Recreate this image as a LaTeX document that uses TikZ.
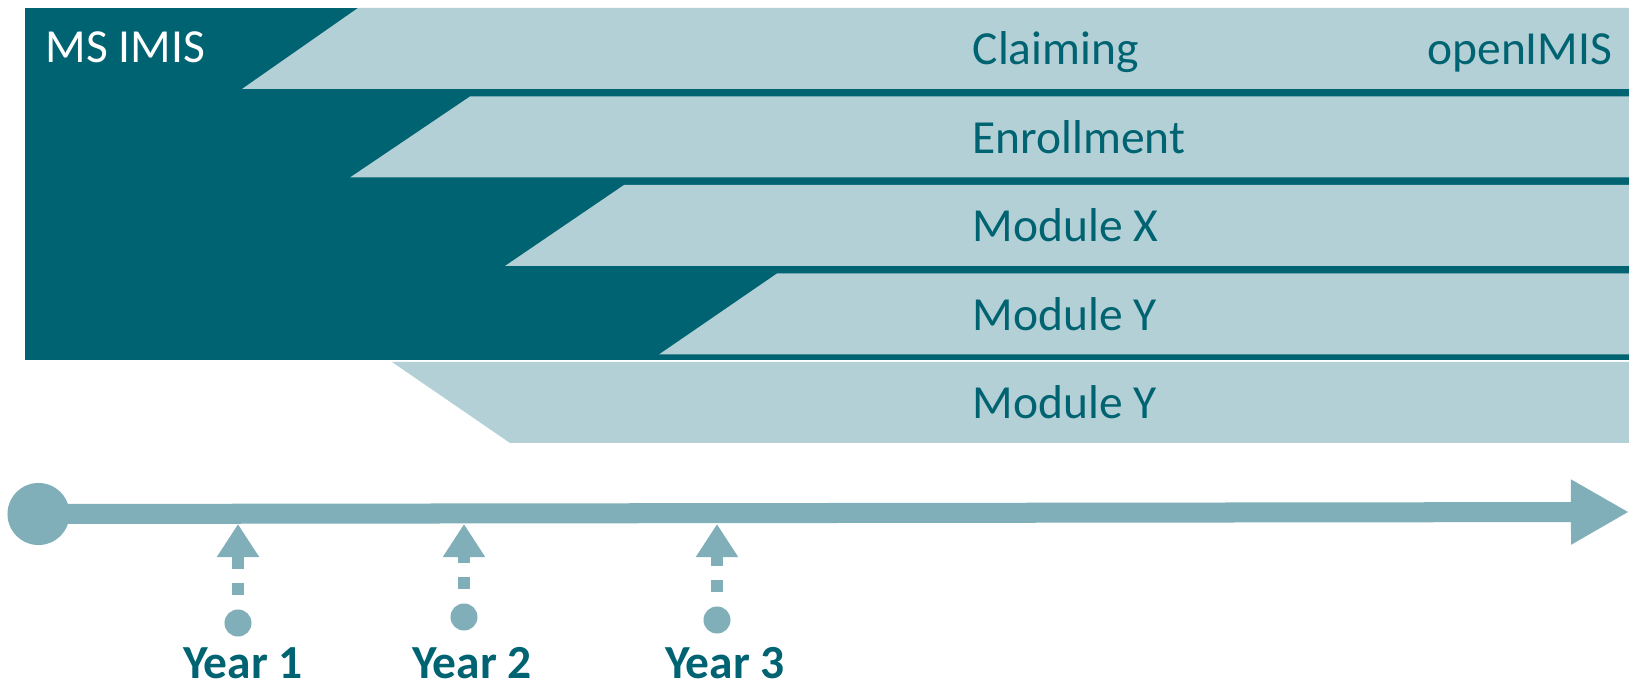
\documentclass[tikz,border=0pt]{standalone}
\usepackage[dvipsnames]{xcolor}
\definecolor{MSdark}{HTML}{006372}
\definecolor{BARlight}{HTML}{B3D0D6}
\definecolor{LINEcolor}{HTML}{80AFB9}
\usepackage{fontspec}
\setmainfont{Carlito}
\usepackage{tikz}
\usetikzlibrary{arrows.meta}

\begin{document}
\begin{tikzpicture}[x=0.01cm, y=-0.01cm]

    \tikzset{%
        modlabel/.style={text=MSdark, inner sep=0pt, anchor=base west,
                font=\fontsize{13.5pt}{0pt}\selectfont},
        yearlabel/.style={text=MSdark, inner sep=0pt, anchor=base,
                font=\fontsize{13.5pt}{0pt}\selectfont\bfseries},
        dot/.style={circle, fill=LINEcolor, inner sep=0pt, minimum size=#1},
        timeline/.style={draw=LINEcolor, line width=0.2cm,
                -{Triangle[width=0.61cm, length=0.58cm]}},
        yeararrow/.style={draw=LINEcolor, line width=0.12cm,
                dash pattern=on 0.12cm off 0.14cm, dash phase=0.12cm,
                -{Triangle[width=0.40cm, length=0.33cm]}},
    }

    \useasboundingbox (0, 0) rectangle (1629, 688);

    % MS IMIS block with the module bars on top
    \fill [MSdark] (25, 8) rectangle (1629, 360.5);
    \foreach \i/\xtop/\xbot/\name in {0/358/242/Claiming, 1/470/350/Enrollment,
            2/624/505/Module X, 3/777/659/Module Y, 4/392/510/Module Y} {%
            \fill [BARlight] (\xtop, {8+88.5*\i}) -- (1629, {8+88.5*\i})
            -- (1629, {89+88.5*\i}) -- (\xbot, {89+88.5*\i}) -- cycle;
            \node [modlabel] (mod\i) at (972, {65+88.5*\i}) {\name};
        }
    \node [modlabel, text=white] (msimis) at (45, 63) {MS IMIS};
    \node [modlabel, anchor=base east] (openimis) at (1613, 65) {openIMIS};

    % time line
    \node [dot=0.62cm] (tstart) at (38.5, 514) {};
    \coordinate (tend) at (1629, 512);
    \draw [timeline] (tstart.center) -- (tend);

    \foreach \i/\x/\ydot/\xlbl in {1/238/623/243, 2/464/617/472, 3/717/620/725} {%
            \node [dot=0.27cm] (ydot\i) at (\x, \ydot) {};
            \coordinate (ytip\i) at (\x, 524);
            \draw [yeararrow] (ydot\i) -- (ytip\i);
            \node [yearlabel] (year\i) at (\xlbl, 679) {Year \i};
        }

\end{tikzpicture}
\end{document}
